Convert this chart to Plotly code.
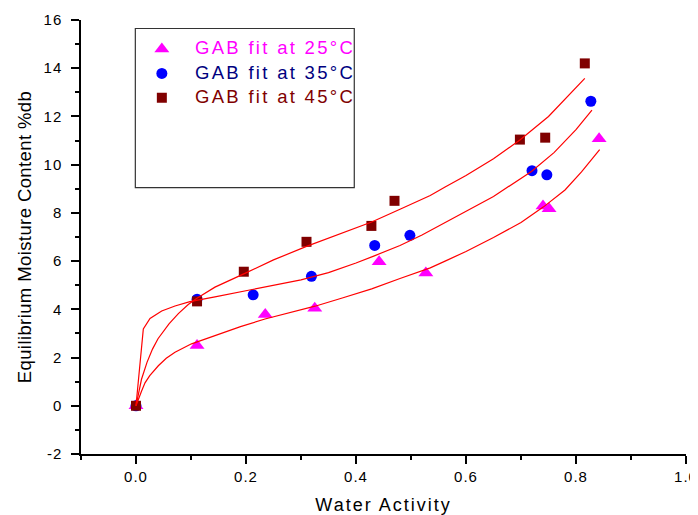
import plotly.graph_objects as go

# Measured data (water activity vs equilibrium moisture content)
aw25 = [0, 0.111, 0.235, 0.325, 0.442, 0.527, 0.740, 0.751, 0.842]
m25 = [0, 2.50, 3.79, 4.05, 5.97, 5.51, 8.29, 8.17, 11.08]
aw35 = [0, 0.111, 0.213, 0.319, 0.434, 0.498, 0.720, 0.747, 0.827]
m35 = [0, 4.42, 4.60, 5.37, 6.65, 7.07, 9.75, 9.58, 12.63]
aw45 = [0, 0.111, 0.196, 0.310, 0.428, 0.470, 0.698, 0.744, 0.816]
m45 = [0, 4.33, 5.56, 6.80, 7.46, 8.50, 11.04, 11.12, 14.20]

# Fitted GAB curves
fx25 = [0, 0.005, 0.01, 0.0164, 0.025, 0.0406, 0.055, 0.0709, 0.085, 0.101, 0.1436,
        0.19, 0.2345, 0.28, 0.3255, 0.375, 0.4285, 0.48, 0.535, 0.562, 0.6, 0.65,
        0.7, 0.741, 0.78, 0.81, 0.843]
fy25 = [0, 0.32, 0.6, 0.95, 1.25, 1.66, 1.97, 2.22, 2.4, 2.57, 2.91,
        3.28, 3.6, 3.86, 4.13, 4.47, 4.85, 5.28, 5.72, 6.0, 6.4, 6.98,
        7.6, 8.25, 8.95, 9.7, 10.62]
fx35 = [0, 0.0133, 0.0255, 0.0467, 0.0709, 0.098, 0.1436, 0.2, 0.25, 0.3, 0.35,
        0.4, 0.4345, 0.48, 0.52, 0.562, 0.6, 0.65, 0.719, 0.76, 0.8, 0.829]
fy35 = [0, 3.19, 3.62, 3.93, 4.14, 4.32, 4.52, 4.77, 4.98, 5.22, 5.52,
        5.92, 6.23, 6.65, 7.08, 7.6, 8.05, 8.68, 9.72, 10.5, 11.45, 12.26]
fx45 = [0, 0.005, 0.01, 0.02, 0.03, 0.04, 0.05, 0.06, 0.077, 0.095, 0.11, 0.1436,
        0.195, 0.25, 0.31, 0.37, 0.4285, 0.48, 0.535, 0.562, 0.6, 0.65, 0.698,
        0.75, 0.816]
fy45 = [0, 0.6, 1.1, 1.8, 2.35, 2.78, 3.1, 3.4, 3.82, 4.2, 4.45, 4.92,
        5.46, 6.05, 6.61, 7.13, 7.62, 8.15, 8.72, 9.07, 9.55, 10.25, 11.02,
        12.0, 13.58]

# Tick values and labels
x_tickvals = [0.0, 0.2, 0.4, 0.6, 0.8, 1.0]
x_ticklabels = ["0.0", "0.2", "0.4", "0.6", "0.8", "1.0"]
y_tickvals = [-2, 0, 2, 4, 6, 8, 10, 12, 14, 16]
y_ticklabels = ["-2", "0", "2", "4", "6", "8", "10", "12", "14", "16"]

labels = ["GAB fit at 25°C", "GAB fit at 35°C", "GAB fit at 45°C"]
text_colors = ["#FF00FF", "#000080", "#800000"]
marker_colors = ["#FF00FF", "#0000FF", "#800000"]
symbols = ["triangle-up", "circle", "square"]
sizes = [13, 11, 10]

FONT = "Liberation Sans, Arial, sans-serif"


def spaced(t, px):
    return f"<span style='letter-spacing:{px}px'>{t}</span>"


fig = go.Figure()
for i, (x, y) in enumerate([(aw25, m25), (aw35, m35), (aw45, m45)]):
    fig.add_trace(go.Scatter(
        x=x, y=y, mode="markers",
        name=" ",
        legendgroup=f"g{i}",
        marker=dict(symbol=symbols[i], size=sizes[i], color=marker_colors[i],
                    line=dict(width=0)),
    ))
for fx, fy in [(fx25, fy25), (fx35, fy35), (fx45, fy45)]:
    fig.add_trace(go.Scatter(
        x=fx, y=fy, mode="lines", showlegend=False,
        line=dict(color="#FF0000", width=1.2),
    ))

axis_common = dict(
    showline=True, linecolor="black", linewidth=1.5, mirror=False,
    ticks="outside", ticklen=8, tickwidth=1.5, tickcolor="black",
    showgrid=False, zeroline=False, automargin=False,
    tickfont=dict(family=FONT, size=15, color="black"),
)

fig.update_xaxes(
    range=[-0.1, 1.0], tickmode="array", tickvals=x_tickvals,
    ticktext=[spaced(t, 1) for t in x_ticklabels],
    ticklabelstandoff=0,
    minor=dict(ticks="outside", ticklen=4, tickwidth=1.5, tickcolor="black", dtick=0.1, tick0=0),
    title=dict(text=spaced("Water Activity", 2),
               font=dict(family=FONT, size=18, color="black"), standoff=15),
    **axis_common,
)
fig.update_yaxes(
    range=[-2, 16], tickmode="array", tickvals=y_tickvals,
    ticktext=[spaced(t, 1) for t in y_ticklabels],
    ticklabelstandoff=6,
    minor=dict(ticks="outside", ticklen=4, tickwidth=1.5, tickcolor="black", dtick=1, tick0=0),
    title=dict(text=spaced("Equilibrium Moisture Content %db", 0.4),
               font=dict(family=FONT, size=18.5, color="black"), standoff=7),
    **axis_common,
)

# legend texts (colored, letter-spaced like the original)
legend_text_y = [0.9366, 0.8789, 0.8235]
annotations = [
    dict(xref="paper", yref="paper", x=0.1856, y=legend_text_y[i],
         xanchor="left", yanchor="middle", showarrow=False,
         text=spaced(labels[i], 2.3),
         font=dict(family=FONT, size=18.5, color=text_colors[i]))
    for i in range(3)
]

fig.update_layout(
    width=690, height=507,
    margin=dict(l=73, r=12, t=12, b=61, autoexpand=False),
    paper_bgcolor="white", plot_bgcolor="white",
    showlegend=True,
    legend=dict(
        x=0.089, y=0.973, xanchor="left", yanchor="top",
        bgcolor="rgba(0,0,0,0)", borderwidth=0,
        font=dict(family=FONT, size=16.5),
        traceorder="grouped", tracegroupgap=0,
        itemwidth=44,
    ),
    annotations=annotations,
    shapes=[dict(
        type="rect", xref="paper", yref="paper",
        x0=0.0898, x1=0.4517, y0=0.6136, y1=0.9804,
        line=dict(color="#333333", width=1.2), fillcolor="white", layer="below",
    )],
)

fig.write_html("out.html")
